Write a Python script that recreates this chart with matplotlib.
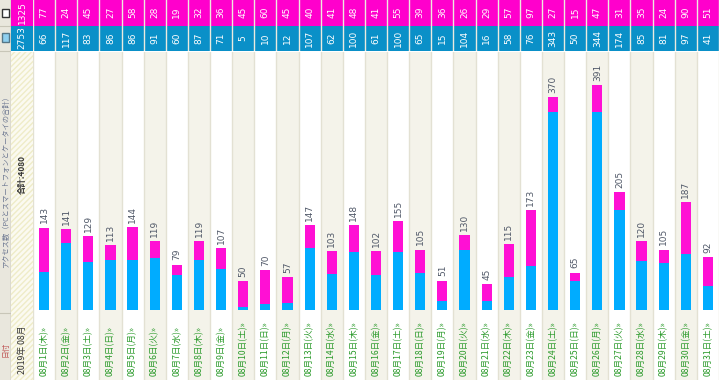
import numpy as np
import matplotlib.pyplot as plt
from matplotlib.patches import Rectangle

plt.rcParams['font.family'] = ['Noto Sans CJK JP', 'DejaVu Sans']

days = ['08月1日(木)', '08月2日(金)', '08月3日(土)', '08月4日(日)', '08月5日(月)', '08月6日(火)',
        '08月7日(水)', '08月8日(木)', '08月9日(金)', '08月10日(土)', '08月11日(日)', '08月12日(月)',
        '08月13日(火)', '08月14日(水)', '08月15日(木)', '08月16日(金)', '08月17日(土)', '08月18日(日)',
        '08月19日(月)', '08月20日(火)', '08月21日(水)', '08月22日(木)', '08月23日(金)', '08月24日(土)',
        '08月25日(日)', '08月26日(月)', '08月27日(火)', '08月28日(水)', '08月29日(木)', '08月30日(金)',
        '08月31日(土)']
smartphone = [77, 24, 45, 27, 58, 28, 19, 32, 36, 45, 60, 45, 40, 41, 48, 41,
              55, 39, 36, 26, 29, 57, 97, 27, 15, 47, 31, 35, 24, 90, 51]
pc = [66, 117, 83, 86, 86, 91, 60, 87, 71, 5, 10, 12, 107, 62, 100, 61,
      100, 65, 15, 104, 16, 58, 76, 343, 50, 344, 174, 85, 81, 97, 41]
keitai = [0, 0, 1, 0, 0, 0, 0, 0, 0, 0, 0, 0, 0, 0, 0, 0,
          0, 1, 0, 0, 0, 0, 0, 0, 0, 0, 0, 0, 0, 0, 0]
month_label = '2019年 08月'

pc = np.array(pc)
smartphone = np.array(smartphone)
keitai = np.array(keitai)
total = pc + smartphone + keitai
n = len(days)
x = np.arange(n)

W, H = 719, 380
fig = plt.figure(figsize=(W / 100, H / 100), dpi=100)
fig.patch.set_facecolor('white')


def px(x0, y0, w, h):
    return [x0 / W, 1 - (y0 + h) / H, w / W, h / H]


MAG = '#ff00cc'
BLUE = '#0a90c8'
SEP = '#e3e1d3'
BEIGE = '#f4f3ea'


def columns(ax):
    for i in x:
        if i % 2 == 1:
            ax.axvspan(i - 0.5, i + 0.5, color=BEIGE, lw=0, zorder=0)
    for i in range(n + 1):
        ax.axvline(i - 0.5, color=SEP, lw=1, zorder=0.5)
    ax.set_xlim(-0.5, n - 0.5)
    ax.axis('off')


# header rows
hx = fig.add_axes(px(33, 0, 686, 51))
hx.set_xlim(-0.5, n - 0.5)
hx.set_ylim(0, 2)
hx.axhspan(1, 2, color=MAG, lw=0)
hx.axhspan(0, 1, color=BLUE, lw=0)
for i in range(n + 1):
    hx.axvline(i - 0.5, color='#eceadf', lw=1)
for i in x:
    hx.text(i, 1.5, str(smartphone[i]), rotation=90, ha='center', va='center',
            color='white', fontsize=6.5, family='DejaVu Sans')
    hx.text(i, 0.5, str(pc[i]), rotation=90, ha='center', va='center',
            color='white', fontsize=6.5, family='DejaVu Sans')
hx.axis('off')

# main bar chart
ax = fig.add_axes(px(33, 52, 686, 258))
columns(ax)
ax.set_ylim(0, 448)
ax.bar(x, pc, width=0.46, color='#00acff', zorder=2)
ax.bar(x, smartphone, width=0.46, bottom=pc, color='#ff10d4', zorder=2)
ax.bar(x, keitai, width=0.46, bottom=pc + smartphone, color='#66cc33', zorder=2)
for i in x:
    ax.annotate(str(total[i]), (i, total[i]), xytext=(0, 3), textcoords='offset points',
                rotation=90, ha='center', va='bottom', fontsize=6.5,
                color='#505868', family='DejaVu Sans')

# date labels
dx = fig.add_axes(px(33, 310, 686, 70))
columns(dx)
dx.set_ylim(0, 70)
for i in x:
    dx.text(i, 4, days[i] + '»', rotation=90, ha='center', va='bottom',
            fontsize=6.2, color='#2a9a2a')

# summary column (hatched)
sx = fig.add_axes(px(11, 0, 22, 380))
sx.set_xlim(0, 1)
sx.set_ylim(380, 0)
sx.add_patch(Rectangle((0, 52), 1, 328, facecolor='#fbfaf1', edgecolor='#efecc8',
                       hatch='//////', lw=0))
sx.add_patch(Rectangle((0, 0), 1, 26, facecolor=MAG, lw=0))
sx.add_patch(Rectangle((0, 26), 1, 25, facecolor=BLUE, lw=0))
sx.text(0.5, 13, str(smartphone.sum()), rotation=90, ha='center', va='center',
        color='white', fontsize=6.5, family='DejaVu Sans')
sx.text(0.5, 38, str(pc.sum()), rotation=90, ha='center', va='center',
        color='white', fontsize=6.5, family='DejaVu Sans')
sx.text(0.5, 174, '合計:' + str(total.sum()), rotation=90, ha='center', va='center',
        color='#333333', fontsize=6, fontweight='bold')
sx.text(0.5, 350, month_label, rotation=90, ha='center', va='center',
        color='#333333', fontsize=6.3)
sx.axis('off')

# leftmost label column
lx = fig.add_axes(px(0, 0, 11, 380))
lx.set_xlim(0, 1)
lx.set_ylim(380, 0)
lx.add_patch(Rectangle((0, 0), 1, 380, facecolor='#e9e7dd', lw=0))
lx.axvline(0.97, color='#a8a698', lw=1)
for yy in (26, 51, 313):
    lx.axhline(yy, color='#c8c6b8', lw=0.8)
# phone / pc icons
lx.add_patch(Rectangle((0.15, 9), 0.7, 8, facecolor='white', edgecolor='#333333', lw=1))
lx.add_patch(Rectangle((0.15, 33), 0.7, 9, facecolor='#8fd0f0', edgecolor='#557788', lw=1))
lx.text(0.5, 180, 'アクセス数（PCとスマートフォンとケータイの合計）', rotation=90,
        ha='center', va='center', color='#6a7590', fontsize=5.2)
lx.text(0.5, 349, '日付', rotation=90, ha='center', va='center',
        color='#c05858', fontsize=5.5)
lx.axis('off')

fig.savefig('out.png', dpi=100)
